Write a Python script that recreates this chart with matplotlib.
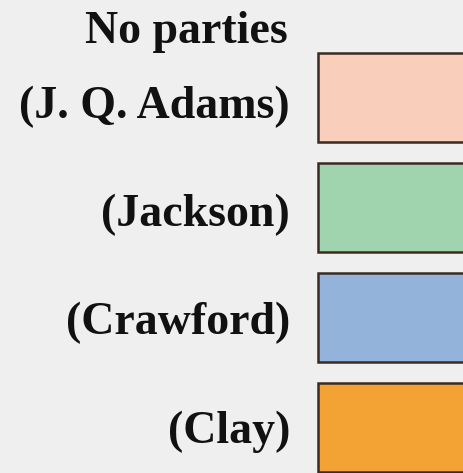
import matplotlib
matplotlib.use("Agg")
import matplotlib.pyplot as plt
from matplotlib.patches import Rectangle

title = "No parties"
labels = ["(J. Q. Adams)", "(Jackson)", "(Crawford)", "(Clay)"]
colors = ["#F9CEBA", "#A0D4AF", "#93B3DB", "#F2A333"]

W, H = 464, 473
fig = plt.figure(figsize=(W / 100, H / 100), dpi=100)
fig.patch.set_facecolor("#EFEFEF")
ax = fig.add_axes([0, 0, 1, 1])
ax.set_xlim(0, W)
ax.set_ylim(H, 0)
ax.axis("off")

font = dict(family="Liberation Serif", fontweight="bold", fontsize=33, color="#111111")

row0, step, bh = 97.5, 110, 89
for i, (lab, col) in enumerate(zip(labels, colors)):
    yc = row0 + step * i
    ax.add_patch(Rectangle((318, yc - bh / 2), 170, bh, facecolor=col,
                           edgecolor="#3A2A22", linewidth=1.8, clip_on=False))
    ax.text(290, 118.5 + 108 * i, lab, ha="right", va="baseline", **font)
ax.text(288, 43, title, ha="right", va="baseline", **font)

fig.savefig("out.png", dpi=100, facecolor=fig.get_facecolor())
